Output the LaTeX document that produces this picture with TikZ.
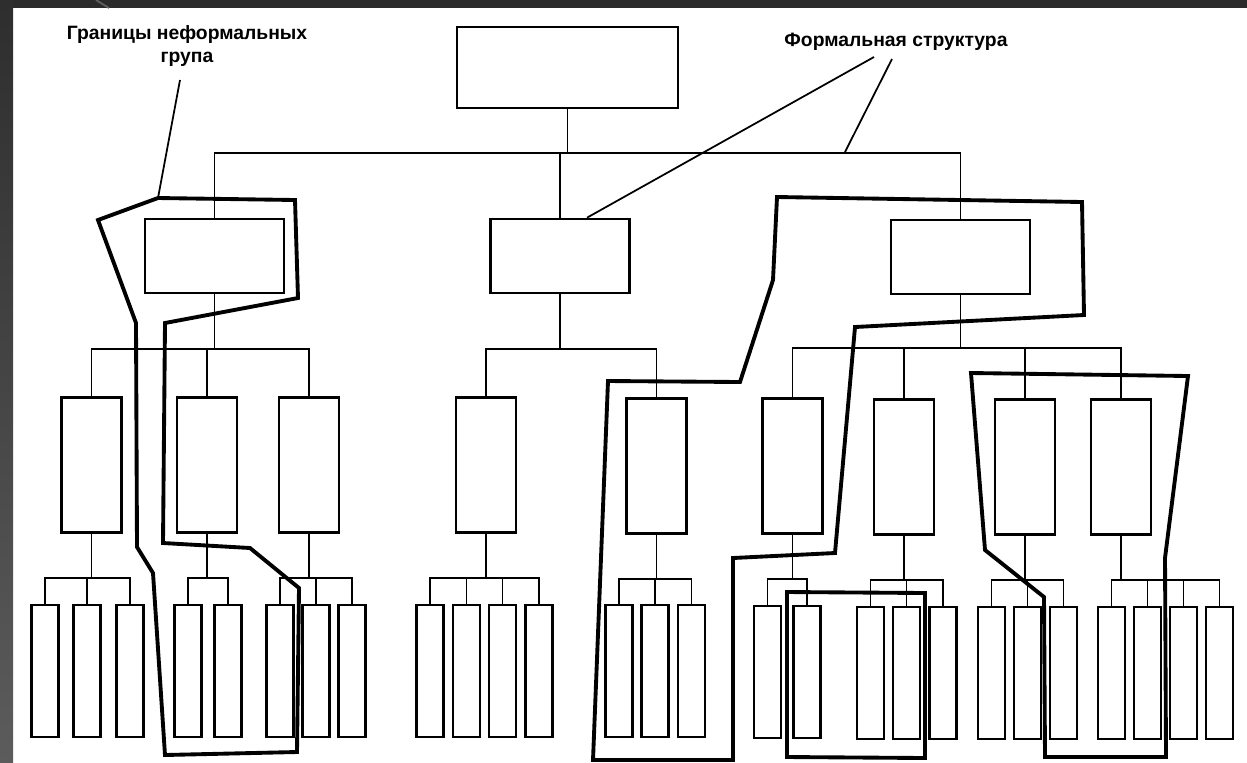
\documentclass[tikz,border=0pt]{standalone}
\usepackage{fontspec}
\setmainfont{Liberation Sans}
\usetikzlibrary{calc, positioning}

\begin{document}
\begin{tikzpicture}[
    x={(0.02cm,0cm)},
    y={(0cm,-0.02cm)},
    box/.style={draw=black, line width=1.5pt, fill=white, inner sep=0pt},
    topbox/.style={box, minimum width=4.42cm, minimum height=1.62cm},
    midbox/.style={box, minimum width=2.78cm, minimum height=1.48cm},
    unitbox/.style={box, minimum width=1.2cm, minimum height=2.7cm},
    cellbox/.style={box, minimum width=0.54cm, minimum height=2.64cm},
    link/.style={line width=1.1pt},
    group/.style={line width=2.2pt, line join=miter},
    pointer/.style={line width=1pt},
    caption/.style={font=\bfseries\fontsize{11}{12}\selectfont, inner sep=0pt, anchor=base}
]
\useasboundingbox (0,0) rectangle (1247,762);

% Slide frame
\fill[white] (0,0) rectangle (1247,762);
\fill[black!83] (0,0) rectangle (1247,8);
\shade[top color=black!82, bottom color=black!64] (0,0) rectangle (13,762);
\draw[black!62, line width=1pt] (96,0) -- (109,8);

% Top
\node[topbox] (T) at (567.5,67.5) {};

% Level 2
\node[midbox] (A) at (214.5,256) {};
\node[midbox] (B) at (560,256) {};
\node[midbox] (C) at (960.5,257) {};

% Level 3
\node[unitbox] (A1) at (91.5,465) {};
\node[unitbox] (A2) at (207,465) {};
\node[unitbox] (A3) at (309,465) {};
\node[unitbox] (B1) at (486,465) {};
\node[unitbox] (B2) at (656.5,466) {};
\node[unitbox] (C1) at (792.5,466) {};
\node[unitbox] (C2) at (904,467) {};
\node[unitbox] (C3) at (1025,467) {};
\node[unitbox] (C4) at (1121,467) {};

% Level 4
\node[cellbox] (A11) at (45,671) {};
\node[cellbox] (A12) at (87,671) {};
\node[cellbox] (A13) at (130,671) {};
\node[cellbox] (A21) at (188,671) {};
\node[cellbox] (A22) at (228,671) {};
\node[cellbox] (A31) at (280,671) {};
\node[cellbox] (A32) at (316,671) {};
\node[cellbox] (A33) at (352,671) {};
\node[cellbox] (B11) at (430,671) {};
\node[cellbox] (B12) at (466.5,671) {};
\node[cellbox] (B13) at (502.5,671) {};
\node[cellbox] (B14) at (539,671) {};
\node[cellbox] (B21) at (619,671) {};
\node[cellbox] (B22) at (655,671) {};
\node[cellbox] (B23) at (691.5,671) {};
\node[cellbox] (C11) at (767.5,672) {};
\node[cellbox] (C12) at (807,672) {};
\node[cellbox] (C21) at (870.5,673) {};
\node[cellbox] (C22) at (906.5,673) {};
\node[cellbox] (C23) at (943,673) {};
\node[cellbox] (C31) at (991.5,673) {};
\node[cellbox] (C32) at (1027.5,673) {};
\node[cellbox] (C33) at (1063.5,673) {};
\node[cellbox] (C41) at (1111.5,673) {};
\node[cellbox] (C42) at (1147.5,673) {};
\node[cellbox] (C43) at (1183.5,673) {};
\node[cellbox] (C44) at (1219.5,673) {};

% Formal links
\draw[link] (T.south) -- ++(0,44) -| (A.north);
\draw[link] (T.south) -- ++(0,44) -| (B.north);
\draw[link] (T.south) -- ++(0,44) -| (C.north);

\draw[link] (A.south) -- ++(0,55) -| (A1.north);
\draw[link] (A.south) -- ++(0,55) -| (A2.north);
\draw[link] (A.south) -- ++(0,55) -| (A3.north);
\draw[link] (B.south) -- ++(0,55) -| (B1.north);
\draw[link] (B.south) -- ++(0,55) -| (B2.north);
\draw[link] (C.south) -- ++(0,53) -| (C1.north);
\draw[link] (C.south) -- ++(0,53) -| (C2.north);
\draw[link] (C.south) -- ++(0,53) -| (C3.north);
\draw[link] (C.south) -- ++(0,53) -| (C4.north);

\draw[link] (A1.south) -- ++(0,44) -| (A11.north);
\draw[link] (A1.south) -- ++(0,44) -| (A12.north);
\draw[link] (A1.south) -- ++(0,44) -| (A13.north);
\draw[link] (A2.south) -- ++(0,44) -| (A21.north);
\draw[link] (A2.south) -- ++(0,44) -| (A22.north);
\draw[link] (A3.south) -- ++(0,44) -| (A31.north);
\draw[link] (A3.south) -- ++(0,44) -| (A32.north);
\draw[link] (A3.south) -- ++(0,44) -| (A33.north);
\draw[link] (B1.south) -- ++(0,44) -| (B11.north);
\draw[link] (B1.south) -- ++(0,44) -| (B12.north);
\draw[link] (B1.south) -- ++(0,44) -| (B13.north);
\draw[link] (B1.south) -- ++(0,44) -| (B14.north);
\draw[link] (B2.south) -- ++(0,44) -| (B21.north);
\draw[link] (B2.south) -- ++(0,44) -| (B22.north);
\draw[link] (B2.south) -- ++(0,44) -| (B23.north);
\draw[link] (C1.south) -- ++(0,44) -| (C11.north);
\draw[link] (C1.south) -- ++(0,44) -| (C12.north);
\draw[link] (C2.south) -- ++(0,44) -| (C21.north);
\draw[link] (C2.south) -- ++(0,44) -| (C22.north);
\draw[link] (C2.south) -- ++(0,44) -| (C23.north);
\draw[link] (C3.south) -- ++(0,44) -| (C31.north);
\draw[link] (C3.south) -- ++(0,44) -| (C32.north);
\draw[link] (C3.south) -- ++(0,44) -| (C33.north);
\draw[link] (C4.south) -- ++(0,44) -| (C41.north);
\draw[link] (C4.south) -- ++(0,44) -| (C42.north);
\draw[link] (C4.south) -- ++(0,44) -| (C43.north);
\draw[link] (C4.south) -- ++(0,44) -| (C44.north);

% Informal group borders
\draw[group] (158,198) -- (295,200) -- (298,298) -- (165,323) -- (163,543) -- (250,548)
    -- (299,588) -- (297,752) -- (165,755) -- (153,573) -- (137,547) -- (136,323)
    -- (98,220) -- cycle;
\draw[group] (777,197) -- (1082,202) -- (1084,315) -- (855,327) -- (835,553) -- (733,558)
    -- (733,760) -- (593,760) -- (608,381) -- (740,382) -- (773,280) -- cycle;
\draw[group] (787,592) -- (925,593) -- (925,758) -- (787,757) -- cycle;
\draw[group] (971,373) -- (1188,376) -- (1165,558) -- (1166,757) -- (1045,757)
    -- (1044,597) -- (985,550) -- cycle;

% Labels
\node[caption] (ngroups) at (187,39) {Границы неформальных};
\node[caption] (ngroupsb) at (187,62) {група};
\node[caption] (formal) at (896,46) {Формальная структура};

\coordinate (g1from) at (180,80);
\coordinate (g1tip) at (158,198);
\coordinate (f1from) at (874,57);
\coordinate (f2from) at (892,59);
\coordinate (f2tip) at (845,152);

\draw[pointer] (g1from) -- (g1tip);
\draw[pointer] (f1from) -- ($(B.north)+(27,0)$);
\draw[pointer] (f2from) -- (f2tip);
\end{tikzpicture}
\end{document}
